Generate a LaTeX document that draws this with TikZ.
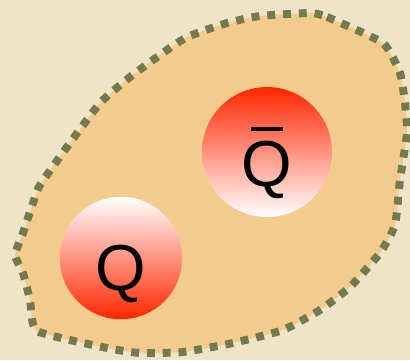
\documentclass[tikz,border=0pt]{standalone}
\usepackage{fontspec}
\setmainfont{Liberation Sans}
\usepackage{tikz}
\usetikzlibrary{calc,shadings}

\definecolor{paper}{RGB}{238,229,201}
\definecolor{bag}{RGB}{243,203,140}
\definecolor{olive}{RGB}{116,121,78}
\definecolor{quarkred}{RGB}{255,38,0}

% antiquark symbol: Q with a bar
\newcommand\antiq{\ooalign{Q\cr\hidewidth\rule[0.85em]{0.49em}{0.055em}\hidewidth\cr}}

\tikzset{
  quark/.style={circle, minimum size=2.45cm, inner sep=0pt},
  quarklabel/.style={anchor=base, font=\fontsize{37}{40}\selectfont, inner sep=0pt}
}

\begin{document}
\begin{tikzpicture}[x=0.02cm, y=-0.02cm]

  % Background
  \useasboundingbox (0,0) rectangle (410,360);
  \fill[paper] (0,0) rectangle (410,360);

  % Bag
  \draw[olive, fill=bag, line width=4.5pt, dash pattern=on 4.5pt off 4.5pt]
    plot[smooth cycle, tension=0.3] coordinates {
      (310,13) (327,17) (383,43) (400,73) (405,103) (407,133) (400,180)
      (395,225) (380,253) (350,287) (320,310) (283,330) (233,343)
      (183,352) (140,353) (107,348) (37,331) (30,300) (23,273) (15,255)
      (23,233) (33,203) (40,185) (67,147) (100,103) (130,77) (160,55)
      (187,37) (227,23) (260,16)};

  % Antiquark
  \node[quark, minimum size=2.6cm, shading=axis, top color=quarkred, bottom color=white] (qbar) at (267,152) {};
  \node[quarklabel] (qbartext) at ([yshift=-0.68cm]qbar.center) {\antiq};

  % Quark
  \node[quark, shading=axis, top color=white, bottom color=quarkred] (q) at (121,258) {};
  \node[quarklabel] (qtext) at ([yshift=-0.64cm]q.center) {Q};

\end{tikzpicture}
\end{document}
